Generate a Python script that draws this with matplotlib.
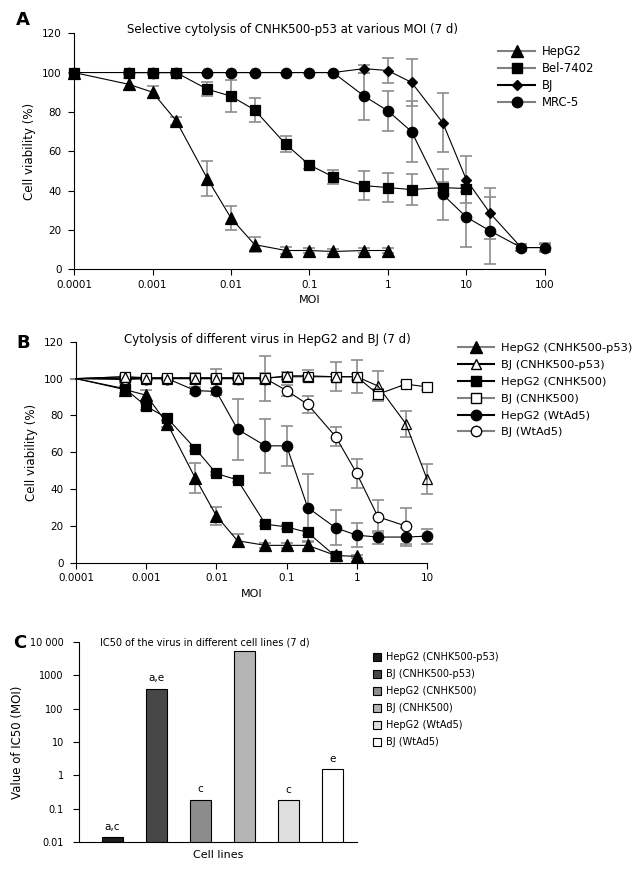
import numpy as np
import matplotlib
matplotlib.use("Agg")
import matplotlib.pyplot as plt
from matplotlib.lines import Line2D
from matplotlib.patches import Patch
from matplotlib.ticker import NullLocator

plt.rcParams['font.family'] = ['DejaVu Sans']
plt.rcParams['font.size'] = 8

nan = np.nan

# ---- panel A data (cell viability %, MOI) ----
moi_a = [0.0001, 0.0005, 0.001, 0.002, 0.005, 0.01, 0.02, 0.05, 0.1, 0.2,
         0.5, 1, 2, 5, 10, 20, 50, 100]
hepg2_a = [100, 94, 90, 75.5, 46, 26, 12.5, 9.5, 9.5, 9, 9.5, 9.5,
           nan, nan, nan, nan, nan, nan]
hepg2_a_err = [0, 3, 3, 2, 9, 6, 4, 2, 1.5, 1.5, 1.5, 1.5,
               nan, nan, nan, nan, nan, nan]
bel_a = [100, 100, 100, 100, 91.5, 88, 81, 63.5, 53, 47, 42.5, 41.5, 40.5,
         41.5, 41, nan, nan, nan]
bel_a_err = [0, 1, 1, 1, 3.5, 8, 6, 4, 2, 3.5, 7.5, 7.5, 8, 3, 2,
             nan, nan, nan]
bj_a = [nan, 100, 100, 100, 100, 100, 100, 100, 100, 100, 102, 101, 95,
        74.5, 45.5, 28.5, 11, 11]
bj_a_err = [nan, 0, 0, 0, 0, 0, 0, 0, 0, 0, 2, 6.5, 12, 15, 12, 13, 2, 2.5]
mrc_a = [nan, 100, 100, 100, 100, 100, 100, 100, 100, 100, 88, 80.5, 70,
         38, 26.5, 19.5, 11, 11]
mrc_a_err = [nan, 0, 0, 0, 0, 0, 0, 0, 0, 0, 12, 10, 15.5, 13, 15, 17, 2, 2]
ticks_a = [0.0001, 0.001, 0.01, 0.1, 1, 10, 100]
ticklabels_a = ['0.0001', '0.001', '0.01', '0.1', '1', '10', '100']

# ---- panel B data ----
moi_b = [0.0001, 0.0005, 0.001, 0.002, 0.005, 0.01, 0.02, 0.05, 0.1, 0.2,
         0.5, 1, 2, 5, 10]
hepg2_p53_b = [100, 94, 91, 75.5, 46, 25.5, 12, 9.5, 9.5, 9.5, 4, 3.5,
               nan, nan, nan]
hepg2_p53_b_err = [0, 2, 3, 2, 8, 5, 3.5, 1.5, 1.5, 2, 1, 1, nan, nan, nan]
bj_p53_b = [100, 101, 100, 100, 100, 100, 100, 100, 101.5, 101.5, 101, 101,
            96, 75.5, 45.5]
bj_p53_b_err = [0, 1, 1, 1, 3, 5, 3, 12, 2, 3, 8, 9, 8, 7, 8]
hepg2_500_b = [100, 94.5, 85, 78.5, 62, 48.5, 45, 21, 19.5, 16.5, 3.5,
               nan, nan, nan, nan]
hepg2_500_b_err = [0, 3, 2, 1.5, 1.5, 1, 1, 1, 1, 1.5, 1, nan, nan, nan, nan]
bj_500_b = [100, 101, 100.5, 100.5, 100.5, 100.5, 100.5, 100.5, 101, 101,
            101, 101, 91.5, 97, 95.5]
bj_500_b_err = [0, 1, 1, 1, 1, 1, 1, 1, 1, 1, 1.5, 1.5, 3, 1, 1.5]
hepg2_wt_b = [100, 99.5, 100, 100, 93.5, 93, 72.5, 63.5, 63.5, 30, 19, 15,
              14, 14, 14.5]
hepg2_wt_b_err = [0, 1, 1, 1, 2, 2, 16.5, 14.5, 11, 18, 9.5, 6.5, 3.5, 5, 4]
bj_wt_b = [100, 100, 100, 100, 100, 100, 100, 100, 93.5, 86, 68.5, 48.5,
           25, 20, nan]
bj_wt_b_err = [0, 1, 1, 1, 1, 2, 3, 3, 3, 4.5, 5, 8, 9, 10, nan]
ticks_b = [0.0001, 0.001, 0.01, 0.1, 1, 10]
ticklabels_b = ['0.0001', '0.001', '0.01', '0.1', '1', '10']

# ---- panel C data ----
cell_lines = ['HepG2 (CNHK500-p53)', 'BJ (CNHK500-p53)', 'HepG2 (CNHK500)',
              'BJ (CNHK500)', 'HepG2 (WtAd5)', 'BJ (WtAd5)']
ic50 = [0.014, 400, 0.185, 5500, 0.18, 1.5]
ic50_marks = ['a,c', 'a,e', 'c', '', 'c', 'e']
bar_colors = ['#1c1c1c', '#474747', '#8c8c8c', '#b4b4b4', '#dedede', '#ffffff']
ticks_c = [0.01, 0.1, 1, 10, 100, 1000, 10000]
ticklabels_c = ['0.01', '0.1', '1', '10', '100', '1000', '10 000']

ERR = '#8c8c8c'


def style_axes(ax, size=7.5, pad=5):
    ax.spines['top'].set_visible(False)
    ax.spines['right'].set_visible(False)
    ax.tick_params(direction='out', length=4, width=0.8, labelsize=size)
    ax.tick_params(axis='y', pad=pad)


def curve(ax, x, y, err, marker, ms, face='black', marks_from=0):
    ax.errorbar(x, y, yerr=err, fmt='none', ecolor=ERR, elinewidth=1.2,
                capsize=4, capthick=1.2, zorder=2, clip_on=False)
    ax.plot(x, y, color='black', lw=0.8, zorder=3, clip_on=False)
    ax.plot(x[marks_from:], y[marks_from:], ls='none', marker=marker, ms=ms,
            mfc=face, mec='black', mew=0.9, zorder=4, clip_on=False)


fig = plt.figure(figsize=(6.44, 8.74), dpi=100)

# ---------------- A ----------------
ax_a = fig.add_axes([0.115, 0.692, 0.731, 0.270])
style_axes(ax_a)
ax_a.set_xscale('log')
curve(ax_a, moi_a, hepg2_a, hepg2_a_err, '^', 8.5)
curve(ax_a, moi_a, bel_a, bel_a_err, 's', 7.5)
curve(ax_a, moi_a, mrc_a, mrc_a_err, 'o', 7.5)
curve(ax_a, moi_a, bj_a, bj_a_err, 'D', 5.5)
ax_a.set_xlim(1e-4, 100)
ax_a.set_ylim(0, 120)
ax_a.set_yticks(range(0, 121, 20))
ax_a.set_xticks(ticks_a)
ax_a.set_xticklabels(ticklabels_a)
ax_a.xaxis.set_minor_locator(NullLocator())
ax_a.set_xlabel('MOI', fontsize=8)
ax_a.set_ylabel('Cell viability (%)', fontsize=8.5)
ax_a.text(0.463, 1.015, 'Selective cytolysis of CNHK500-p53 at various MOI (7 d)',
          transform=ax_a.transAxes, ha='center', va='center', fontsize=8.5)
fig.text(0.025, 0.977, 'A', fontsize=13, fontweight='bold', va='center')

leg_a = [Line2D([], [], color='#808080', marker='^', ms=8.5, mfc='black', mec='black'),
         Line2D([], [], color='#808080', marker='s', ms=7.5, mfc='black', mec='black'),
         Line2D([], [], color='black', marker='D', ms=5.5, mfc='black', mec='black'),
         Line2D([], [], color='#808080', marker='o', ms=7.5, mfc='black', mec='black')]
fig.legend(leg_a, ['HepG2', 'Bel-7402', 'BJ', 'MRC-5'], loc='upper left',
           bbox_to_anchor=(0.757, 0.96), frameon=False, handlelength=3.2,
           labelspacing=0.32, handletextpad=0.6, fontsize=8.4)

# ---------------- B ----------------
ax_b = fig.add_axes([0.118, 0.356, 0.545, 0.253])
style_axes(ax_b)
ax_b.set_xscale('log')
curve(ax_b, moi_b, hepg2_p53_b, hepg2_p53_b_err, '^', 8.5, marks_from=1)
curve(ax_b, moi_b, hepg2_500_b, hepg2_500_b_err, 's', 7, marks_from=1)
curve(ax_b, moi_b, hepg2_wt_b, hepg2_wt_b_err, 'o', 7.5, marks_from=1)
curve(ax_b, moi_b, bj_wt_b, bj_wt_b_err, 'o', 7.5, face='white', marks_from=1)
curve(ax_b, moi_b, bj_500_b, bj_500_b_err, 's', 7, face='white', marks_from=1)
curve(ax_b, moi_b, bj_p53_b, bj_p53_b_err, '^', 7.5, face='none', marks_from=1)
ax_b.set_xlim(1e-4, 10)
ax_b.set_ylim(0, 120)
ax_b.set_yticks(range(0, 121, 20))
ax_b.set_xticks(ticks_b)
ax_b.set_xticklabels(ticklabels_b)
ax_b.xaxis.set_minor_locator(NullLocator())
ax_b.set_xlabel('MOI', fontsize=8)
ax_b.set_ylabel('Cell viability (%)', fontsize=8.5)
ax_b.text(0.546, 1.01, 'Cytolysis of different virus in HepG2 and BJ (7 d)',
          transform=ax_b.transAxes, ha='center', va='center', fontsize=8.5)
fig.text(0.025, 0.607, 'B', fontsize=13, fontweight='bold', va='center')

leg_b = [Line2D([], [], color='#808080', marker='^', ms=8.5, mfc='black', mec='black'),
         Line2D([], [], color='black', marker='^', ms=7.5, mfc='white', mec='black'),
         Line2D([], [], color='black', marker='s', ms=7, mfc='black', mec='black'),
         Line2D([], [], color='#808080', marker='s', ms=7, mfc='white', mec='black'),
         Line2D([], [], color='black', marker='o', ms=7.5, mfc='black', mec='black'),
         Line2D([], [], color='#808080', marker='o', ms=7.5, mfc='white', mec='black')]
fig.legend(leg_b, cell_lines, loc='upper left', bbox_to_anchor=(0.695, 0.619),
           frameon=False, handlelength=3.2, labelspacing=0.6,
           handletextpad=0.6, fontsize=8.2)

# ---------------- C ----------------
ax_c = fig.add_axes([0.1227, 0.0366, 0.4317, 0.2288])
style_axes(ax_c, size=7, pad=7)
xpos = np.arange(len(ic50))
ax_c.bar(xpos, ic50, width=0.48, color=bar_colors, edgecolor='black',
         linewidth=0.8)
ax_c.set_yscale('log')
ax_c.set_ylim(0.01, 10000)
ax_c.set_xlim(-0.76, 5.56)
ax_c.set_yticks(ticks_c)
ax_c.set_yticklabels(ticklabels_c)
ax_c.yaxis.set_minor_locator(NullLocator())
ax_c.set_xticks([])
ax_c.set_xlabel('Cell lines', fontsize=8, labelpad=6)
ax_c.set_ylabel('Value of IC50 (MOI)', fontsize=8.5)
for xi, v, m in zip(xpos, ic50, ic50_marks):
    if m:
        ax_c.annotate(m, (xi, v), xytext=(0, 4), textcoords='offset points',
                      ha='center', va='bottom', fontsize=7.5)
ax_c.text(0.453, 1.0, 'IC50 of the virus in different cell lines (7 d)',
          transform=ax_c.transAxes, ha='center', va='center', fontsize=7)
fig.text(0.02, 0.264, 'C', fontsize=13, fontweight='bold', va='center')

leg_c = [Patch(facecolor=c, edgecolor='black', linewidth=0.8) for c in bar_colors]
fig.legend(leg_c, cell_lines, loc='upper left', bbox_to_anchor=(0.565, 0.264),
           frameon=False, handlelength=0.9, handleheight=0.9,
           labelspacing=0.72, handletextpad=0.5, fontsize=7)

fig.savefig('out.png', dpi=100)
